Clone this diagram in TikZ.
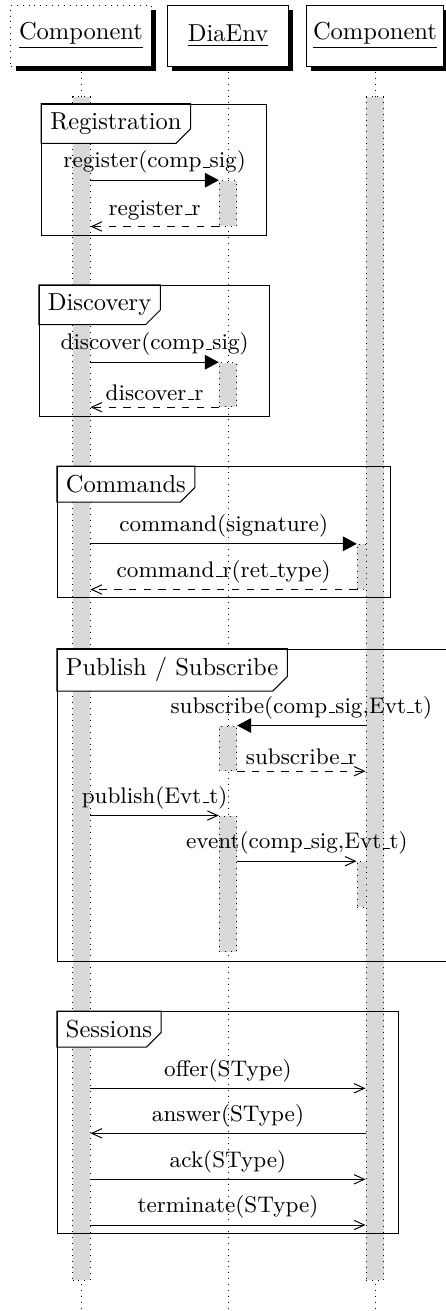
\documentclass[tikz,border=0pt]{standalone}
\usepackage{fontspec}
\usepackage{tikz}
\usetikzlibrary{arrows.meta,positioning,fit,shadows}

% low rule underscore, as in the classic fonts
\renewcommand{\_}{\leavevmode\kern.06em\vbox{\hrule width.3em}}

\pgfdeclarelayer{back}
\pgfdeclarelayer{mid}
\pgfsetlayers{back,mid,main}

\tikzset{
  inst/.style={draw, fill=white, minimum width=#1, minimum height=24.9pt, inner sep=0pt,
    general shadow={fill=black, shadow xshift=2pt, shadow yshift=-2pt}},
  lifeline/.style={dotted},
  bar/.style={draw, dotted, fill=gray!30, inner sep=0pt},
  sdframe/.style={draw, inner sep=0pt},
  framelbl/.style={anchor=north west, inner sep=3.5pt},
  call/.style={-{Triangle[length=5.7pt,width=6pt]}},
  msg/.style={-{Straight Barb[length=4.2pt,width=3.8pt]}},
  ret/.style={msg, dashed},
  lbl/.style={midway, above, inner sep=2.5pt, font=\fontsize{9.2}{11}\selectfont}
}

% pentagon behind a frame label
\newcommand{\fraglabel}[1]{%
  \begin{pgfonlayer}{mid}
    \draw[fill=white] (#1.north west) -- (#1.north east) -- ([yshift=6pt]#1.south east)
      -- ([xshift=-6pt]#1.south east) -- (#1.south west) -- cycle;
  \end{pgfonlayer}}

\begin{document}
\begin{tikzpicture}[x=0.408pt, y=-0.408pt]
    \useasboundingbox (0,0) rectangle (446,1311);

    % Instances
    \node[inst=57.4pt, dotted] (comp1) at (81,35.5) {\underline{Component}};
    \node[inst=49.4pt] (env) at (228,35.5) {\underline{DiaEnv}};
    \node[inst=55.9pt] (comp2) at (375,35.5) {\underline{Component}};

    \coordinate (endA) at (81,1311);
    \coordinate (endB) at (228,1311);
    \coordinate (endC) at (375,1311);

    \begin{pgfonlayer}{back}
        % Lifelines
        \draw[lifeline] (comp1.south) -- (endA);
        \draw[lifeline] (env.south) -- (endB);
        \draw[lifeline] (comp2.south) -- (endC);

        % Nested calls (under the right bar)
        \node[bar, fit={(357.3,544.3) (374.7,589)}] (cmdbar) {};
        \node[bar, fit={(357,861.7) (374.5,907.3)}] (evtbar) {};

        % Activation bars
        \node[bar, fit={(72.5,96.7) (90,1280)}] (barA) {};
        \node[bar, fit={(366,96.7) (383.5,1280)}] (barC) {};
        \node[bar, fit={(219.3,180.7) (236.7,226)}] (regbar) {};
        \node[bar, fit={(219.3,362.7) (236.7,406.7)}] (discbar) {};
        \node[bar, fit={(219.3,726) (236.7,770.7)}] (subbar) {};
        \node[bar, fit={(219.3,816) (236.7,951.7)}] (pubbar) {};
    \end{pgfonlayer}

    % Registration
    \node[sdframe, fit={(41.7,104) (266.7,235.7)}] (regfr) {};
    \node[framelbl] (reglbl) at (regfr.north west) {Registration};
    \fraglabel{reglbl}
    \draw[call] (barA.east |- regbar.north) -- (regbar.north west) node[lbl] {register(comp\_sig)};
    \draw[ret] (regbar.south west) -- (barA.east |- regbar.south) node[lbl] {register\_r};

    % Discovery
    \node[sdframe, fit={(39.3,285.3) (269.3,416.7)}] (discfr) {};
    \node[framelbl] (disclbl) at (discfr.north west) {Discovery};
    \fraglabel{disclbl}
    \draw[call] (barA.east |- discbar.north) -- (discbar.north west) node[lbl] {discover(comp\_sig)};
    \draw[ret] (discbar.south west) -- (barA.east |- discbar.south) node[lbl] {discover\_r};

    % Commands
    \node[sdframe, fit={(57.3,466.7) (390,597.7)}] (cmdfr) {};
    \node[framelbl] (cmdlbl) at (cmdfr.north west) {Commands};
    \fraglabel{cmdlbl}
    \draw[call] (barA.east |- cmdbar.north) -- (cmdbar.north west) node[lbl] {command(signature)};
    \draw[ret] (cmdbar.south west) -- (barA.east |- cmdbar.south) node[lbl] {command\_r(ret\_type)};

    % Publish / Subscribe
    \node[sdframe, fit={(57.3,649) (470,961.7)}] (pubfr) {};
    \node[framelbl] (publbl) at (pubfr.north west) {Publish / Subscribe};
    \fraglabel{publbl}
    \draw[call] (barC.west |- subbar.north) -- (subbar.north east) node[lbl] {subscribe(comp\_sig,Evt\_t)};
    \draw[ret] (subbar.south east) -- (barC.west |- subbar.south) node[lbl] {subscribe\_r};
    \draw[msg] (barA.east |- pubbar.north) -- (pubbar.north west) node[lbl] {publish(Evt\_t)};
    \draw[msg] (pubbar.east |- evtbar.north) -- (evtbar.north west) node[lbl] {event(comp\_sig,Evt\_t)};

    % Sessions
    \node[sdframe, fit={(57.3,1011.7) (398.3,1233.3)}] (sessfr) {};
    \node[framelbl] (sesslbl) at (sessfr.north west) {Sessions};
    \fraglabel{sesslbl}
    \coordinate (offer) at (0,1088.3);
    \coordinate (answer) at (0,1133.3);
    \coordinate (ack) at (0,1179.3);
    \coordinate (term) at (0,1225);
    \draw[msg] (barA.east |- offer) -- (barC.west |- offer) node[lbl] {offer(SType)};
    \draw[msg] (barC.west |- answer) -- (barA.east |- answer) node[lbl] {answer(SType)};
    \draw[msg] (barA.east |- ack) -- (barC.west |- ack) node[lbl] {ack(SType)};
    \draw[msg] (barA.east |- term) -- (barC.west |- term) node[lbl] {terminate(SType)};
\end{tikzpicture}
\end{document}
